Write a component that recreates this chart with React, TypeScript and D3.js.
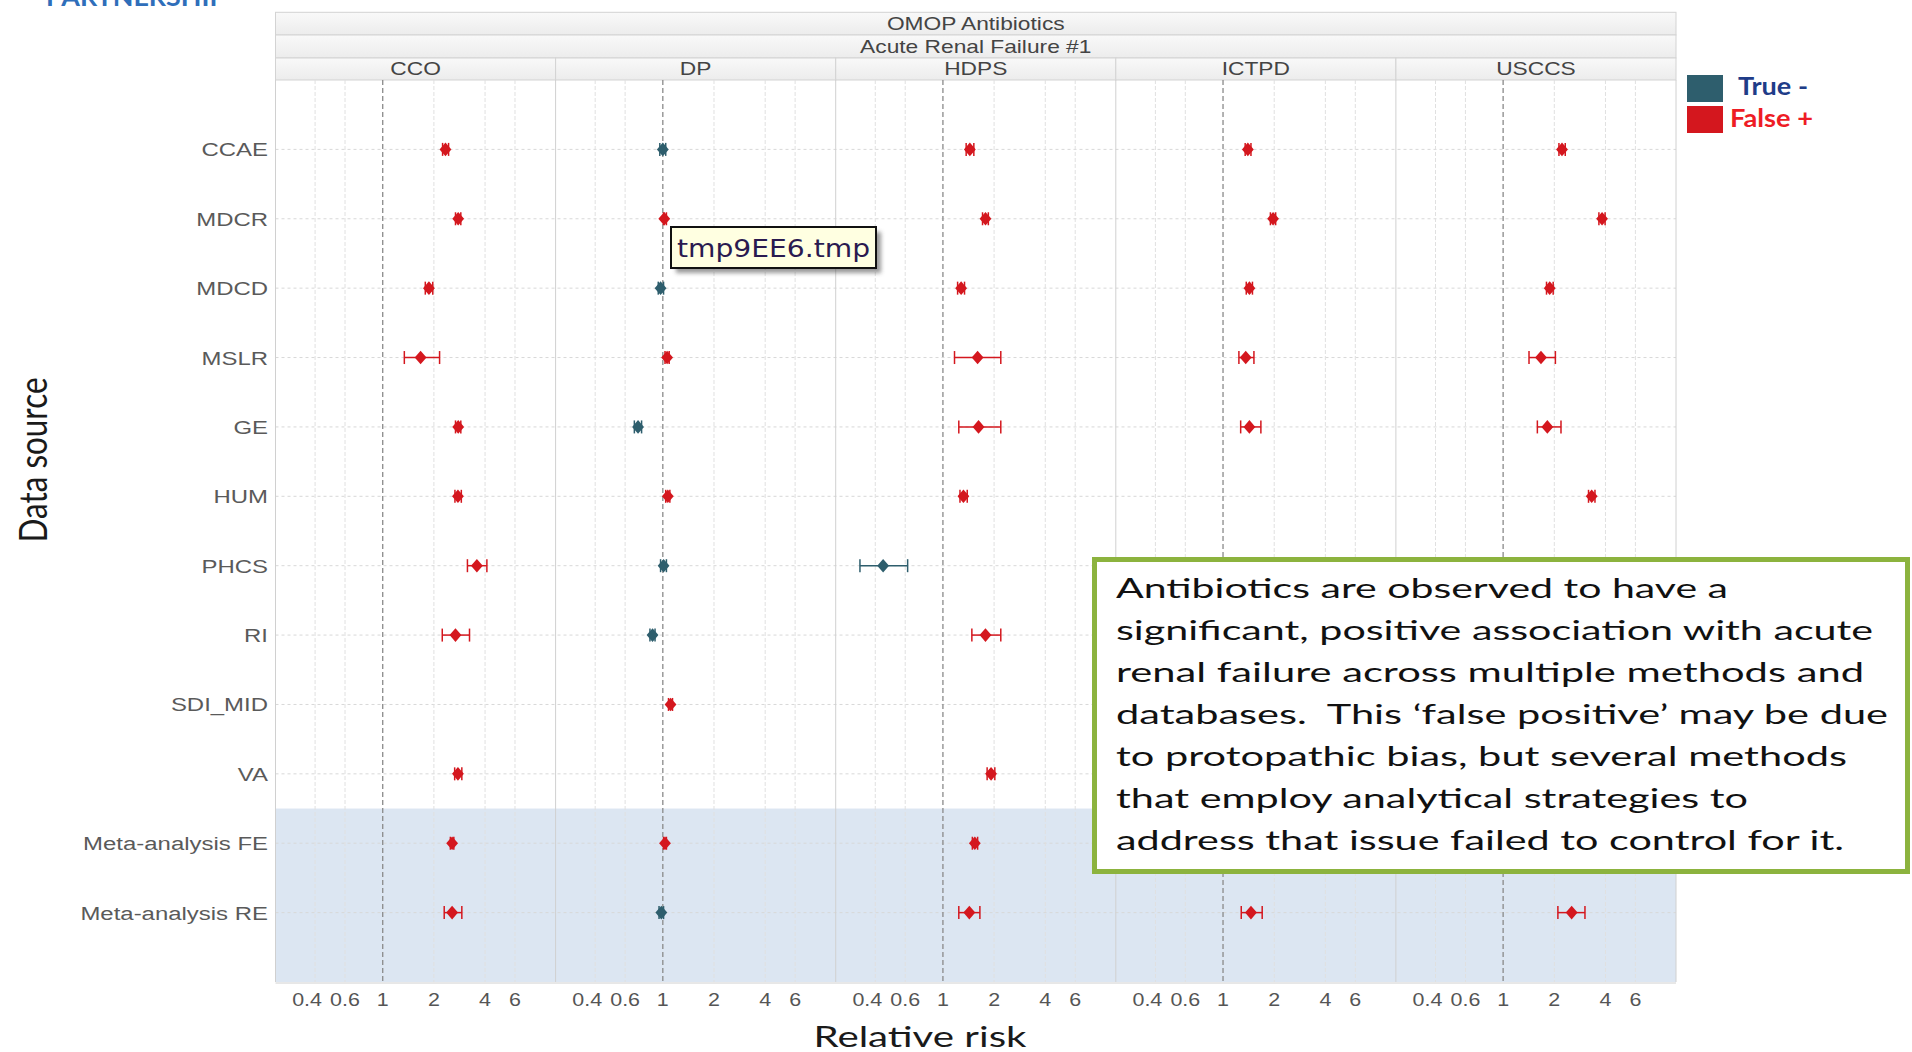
import React from 'react';
import * as d3 from 'd3';

const W = 1912;
const H = 1052;

// data sources (rows) and methods (panels)
const sources = ['CCAE', 'MDCR', 'MDCD', 'MSLR', 'GE', 'HUM', 'PHCS', 'RI', 'SDI_MID', 'VA', 'Meta-analysis FE', 'Meta-analysis RE'];
const methods = ['CCO', 'DP', 'HDPS', 'ICTPD', 'USCCS'];

// [relative risk, lower CI, upper CI] per source, null = not shown
const cco = [[2.34, 2.25, 2.44], [2.78, 2.68, 2.88], [1.87, 1.78, 1.97], [1.67, 1.34, 2.16], [2.78, 2.68, 2.88], [2.77, 2.66, 2.9], [3.58, 3.15, 4.1], [2.68, 2.24, 3.24], null, [2.77, 2.65, 2.92], [2.56, 2.5, 2.62], [2.56, 2.3, 2.92]];
const dp = [[1.0, 0.96, 1.04], [1.02, 1.01, 1.05], [0.97, 0.94, 1.01], [1.06, 1.03, 1.09], [0.715, 0.68, 0.75], [1.07, 1.04, 1.1], [1.01, 0.97, 1.05], [0.87, 0.84, 0.9], [1.11, 1.08, 1.14], null, [1.03, 1.01, 1.05], [0.98, 0.95, 1.01]];
const hdps = [[1.44, 1.37, 1.52], [1.78, 1.71, 1.85], [1.28, 1.22, 1.34], [1.6, 1.17, 2.19], [1.62, 1.24, 2.19], [1.32, 1.26, 1.39], [0.445, 0.325, 0.62], [1.78, 1.48, 2.19], null, [1.92, 1.82, 2.02], [1.54, 1.49, 1.6], [1.43, 1.24, 1.65]];
const ictpd = [[1.4, 1.35, 1.46], [1.97, 1.9, 2.04], [1.43, 1.37, 1.49], [1.36, 1.24, 1.52], [1.43, 1.27, 1.67], null, null, null, null, null, null, [1.46, 1.28, 1.7]];
const usccs = [[2.22, 2.13, 2.32], [3.82, 3.66, 3.98], [1.88, 1.8, 1.97], [1.67, 1.42, 2.03], [1.82, 1.59, 2.19], [3.32, 3.18, 3.47], null, null, null, null, null, [2.53, 2.1, 3.03]];
const panelData = [cco, dp, hdps, ictpd, usccs];

const tickValues = [0.4, 0.6, 1, 2, 4, 6];
const tickLabels = ['0.4', '0.6', '1', '2', '4', '6'];

const legendLabels = ['True -', 'False +'];
const legendColors = ['#2e5e6d', '#d4171e'];
const legendText = ['#1f3c88', '#ee1c25'];

const noteLines = [
  'Antibiotics are observed to have a',
  'significant, positive association with acute',
  'renal failure across multiple methods and',
  'databases.  This \u2018false positive\u2019 may be due',
  'to protopathic bias, but several methods',
  'that employ analytical strategies to',
  'address that issue failed to control for it.',
];
const noteWidths = [612, 757, 748, 772, 731, 632, 728];

const plotL = 275.5;
const plotR = 1676;
const plotT = 80;
const plotB = 982;

const panelX = d3.scaleBand().domain(methods).range([plotL, plotR]);
const pw = panelX.bandwidth();
const x = d3.scaleLog().domain([0.234, 10.4]).range([0, pw]);
const y = d3.scalePoint().domain(sources).range([plotT, plotB]).padding(1);
const step = y.step();

const diamond = {
  draw(ctx: any, size: number) {
    const r = Math.sqrt(size) / 2;
    ctx.moveTo(0, -r * 1.15);
    ctx.lineTo(r, 0);
    ctx.lineTo(0, r * 1.15);
    ctx.lineTo(-r, 0);
    ctx.closePath();
  },
};
const marker = d3.symbol().type(diamond as any).size(140)();

const chartFont = '"Liberation Sans", Arial, sans-serif';
const slideFont = 'Lato, "Open Sans", sans-serif';

function SText({ x, y, sx = 1.2, anchor = 'middle', size = 18, fill = '#555', children }: any) {
  return (
    <text transform={`translate(${x},${y}) scale(${sx},1)`} textAnchor={anchor} fontSize={size} fill={fill} fontFamily={chartFont}>
      {children}
    </text>
  );
}

export default function App() {
  const bandTop = (y('VA') as number) + step / 2;
  const strips = [
    { y0: 12.3, y1: 35, label: 'OMOP Antibiotics' },
    { y0: 35, y1: 58, label: 'Acute Renal Failure #1' },
  ];
  return (
    <svg width={W} height={H} style={{ position: 'absolute', left: 0, top: 0, background: '#fff' }} fontFamily={chartFont}>
      <defs>
        <linearGradient id="strip" x1="0" y1="0" x2="0" y2="1">
          <stop offset="0" stopColor="#f9f9f9" />
          <stop offset="1" stopColor="#ececec" />
        </linearGradient>
        <filter id="shadow" x="-10%" y="-10%" width="130%" height="150%">
          <feGaussianBlur stdDeviation="2" />
        </filter>
      </defs>

      {/* slide header remnant, cut at the top as in the slide */}
      <text x={46} y={6} fontSize={25} fontWeight="bold" fill="#2f6eba" fontFamily={slideFont} textLength={180} lengthAdjust="spacingAndGlyphs">PARTNERSHIP</text>

      {/* strips */}
      {strips.map(s => (
        <g key={s.label}>
          <rect x={plotL} y={s.y0} width={plotR - plotL} height={s.y1 - s.y0} fill="url(#strip)" stroke="#d3d3d3" />
          <SText x={(plotL + plotR) / 2} y={s.y1 - 5.5} sx={1.3} size={17.5} fill="#444">{s.label}</SText>
        </g>
      ))}
      {methods.map(m => (
        <g key={m}>
          <rect x={panelX(m)} y={58} width={pw} height={plotT - 58} fill="url(#strip)" stroke="#d3d3d3" />
          <SText x={(panelX(m) as number) + pw / 2} y={75} sx={1.3} size={17.5} fill="#444">{m}</SText>
        </g>
      ))}

      {/* meta-analysis band */}
      <rect x={plotL} y={bandTop} width={plotR - plotL} height={plotB - bandTop} fill="#dce6f2" />

      {/* horizontal gridlines */}
      {sources.map(s => (
        <line key={s} x1={plotL} x2={plotR} y1={y(s)} y2={y(s)} stroke="#d8d8d8" strokeDasharray="3,3" />
      ))}

      {/* vertical gridlines per panel */}
      {methods.map(m => (
        <g key={m} transform={`translate(${panelX(m)},0)`}>
          {tickValues.map(t => (
            <line key={t} x1={x(t)} x2={x(t)} y1={plotT} y2={plotB}
              stroke={t === 1 ? '#8a8a8a' : '#e0e0e0'} strokeWidth={t === 1 ? 1.3 : 1}
              strokeDasharray={t === 1 ? '5,3' : '4,2'} />
          ))}
          <line x1={0} x2={0} y1={plotT} y2={plotB} stroke="#d0d0d0" />
          {tickValues.map((t, i) => (
            <SText key={t} x={x(t) + (t === 0.4 ? -8 : 0)} y={1005.5} sx={1.16} size={18.5} fill="#555">{tickLabels[i]}</SText>
          ))}
        </g>
      ))}
      <line x1={plotR} x2={plotR} y1={plotT} y2={plotB} stroke="#d0d0d0" />
      <line x1={plotL} x2={plotR} y1={plotB + 1} y2={plotB + 1} stroke="#d0d0d0" />

      {/* row labels */}
      {sources.map(s => (
        <SText key={s} x={268} y={(y(s) as number) + 7} sx={1.26} size={19} anchor="end" fill="#5a5a5a">{s}</SText>
      ))}

      {/* estimates */}
      {methods.map((m, mi) => (
        <g key={m} transform={`translate(${panelX(m)},0)`}>
          {panelData[mi].map((d, i) => {
            if (!d) return null;
            const [rr, lo, hi] = d;
            const c = lo > 1 ? legendColors[1] : legendColors[0];
            const yy = y(sources[i]) as number;
            return (
              <g key={i}>
                <line x1={x(lo)} x2={x(hi)} y1={yy} y2={yy} stroke={c} strokeWidth={1.5} />
                <line x1={x(lo)} x2={x(lo)} y1={yy - 6.5} y2={yy + 6.5} stroke={c} strokeWidth={1.5} />
                <line x1={x(hi)} x2={x(hi)} y1={yy - 6.5} y2={yy + 6.5} stroke={c} strokeWidth={1.5} />
                <path d={marker as string} transform={`translate(${x(rr)},${yy})`} fill={c} />
              </g>
            );
          })}
        </g>
      ))}

      {/* axis titles */}
      <text x={920} y={1047} textAnchor="middle" fontSize={29} fill="#1a1a1a" fontFamily={slideFont} textLength={213} lengthAdjust="spacingAndGlyphs">Relative risk</text>
      <text transform="translate(47,460) scale(1.15,1) rotate(-90)" textAnchor="middle" fontSize={34} fill="#1a1a1a" fontFamily={slideFont} textLength={165} lengthAdjust="spacingAndGlyphs">Data source</text>

      {/* legend */}
      {legendLabels.map((l, i) => (
        <g key={l}>
          <rect x={1687} y={75 + i * 31} width={36} height={27} fill={legendColors[i]} />
          <text x={i === 0 ? 1738 : 1730} y={95 + i * 32} fontSize={24} fontWeight="bold" fill={legendText[i]} fontFamily={slideFont}
            textLength={i === 0 ? 70 : 83} lengthAdjust="spacingAndGlyphs">{l}</text>
        </g>
      ))}

      {/* tooltip */}
      <rect x={676} y={232} width={205} height={41} fill="#555" opacity={0.6} filter="url(#shadow)" />
      <rect x={671} y={227} width={205} height={41} fill="#ffffe1" stroke="#111" strokeWidth={2} />
      <text x={677} y={257} fontSize={24} fill="#2a1a50" fontFamily='"DejaVu Sans", sans-serif' textLength={193} lengthAdjust="spacingAndGlyphs">tmp9EE6.tmp</text>

      {/* annotation */}
      <rect x={1094.5} y={559.5} width={813} height={312} fill="#fff" stroke="#8cb33e" strokeWidth={5} />
      {noteLines.map((l, i) => (
        <text key={i} x={1116} y={598 + i * 42} fontSize={27} fill="#111" fontFamily={slideFont} textLength={noteWidths[i]} lengthAdjust="spacingAndGlyphs" style={{ whiteSpace: 'pre' }}>{l}</text>
      ))}
    </svg>
  );
}
